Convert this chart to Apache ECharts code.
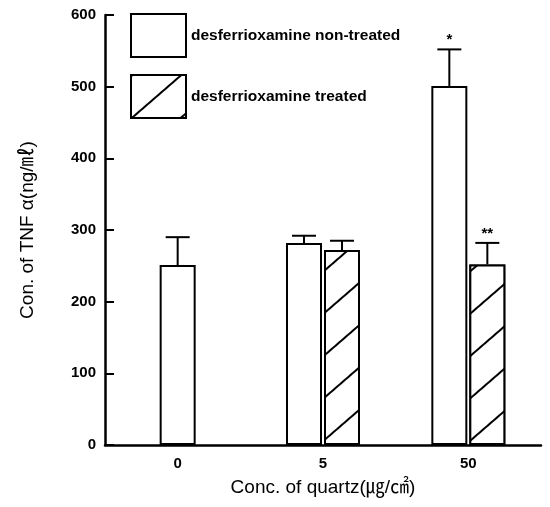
<!DOCTYPE html>
<html>
<head>
<meta charset="utf-8">
<script src="https://cdn.jsdelivr.net/npm/echarts@6/dist/echarts.min.js"></script>
<style>
  html, body { margin: 0; padding: 0; background: #fff; }
  #chart { width: 550px; height: 507px; }
</style>
</head>
<body>
<div id="chart"></div>
<script>
// quartz concentrations (x categories)
const categories = ["0", "5", "50"];
const yTicks = [0, 100, 200, 300, 400, 500, 600];

// TNF-alpha means and upper error values
const nonTreated = [251, 282, 501];
const nonTreatedUpper = [290, 292, 552];
const nonTreatedSig = ["", "", "*"];

const treated = [null, 272, 252];
const treatedUpper = [null, 285, 282];
const treatedSig = ["", "", "**"];

const NAME_NON = "desferrioxamine non-treated";
const NAME_TRT = "desferrioxamine treated";

const BAR_W = 36;
const BAR_GAP = 2;
const numFont = "'Liberation Sans Narrow', 'Liberation Sans', Arial, sans-serif";
const txtFont = "'Liberation Sans', Arial, 'Noto Sans CJK KR', sans-serif";

const hatch = {
  color: "#000",
  backgroundColor: "#fff",
  symbol: "rect",
  dashArrayX: [1, 0],
  dashArrayY: [1.4, 30],
  rotation: -Math.PI / 4.4
};

// bars present at both sides only where treated value exists
const pairedNon = nonTreated.map((v, i) => (treated[i] == null ? "-" : v));
const singleNon = nonTreated.map((v, i) => (treated[i] == null ? v : "-"));
const pairedTrt = treated.map(v => (v == null ? "-" : v));

// error bar rows: [category, mean, upper, group(0 non, 1 treated), sig]
const errRows = [];
nonTreated.forEach((v, i) => errRows.push([i, v, nonTreatedUpper[i], 0, nonTreatedSig[i]]));
treated.forEach((v, i) => { if (v != null) errRows.push([i, v, treatedUpper[i], 1, treatedSig[i]]); });

function renderError(params, api) {
  const i = api.value(0);
  const group = api.value(3);
  const sig = errRows[params.dataIndex][4];
  let off = 0;
  if (treated[i] != null) off = group === 0 ? -(BAR_W + BAR_GAP) / 2 : (BAR_W + BAR_GAP) / 2;
  const base = api.coord([i, api.value(1)]);
  const top = api.coord([i, api.value(2)]);
  const x = base[0] + off;
  const cap = 12;
  const style = { stroke: "#000", lineWidth: 2 };
  const children = [
    { type: "line", shape: { x1: x, y1: base[1], x2: x, y2: top[1] }, style },
    { type: "line", shape: { x1: x - cap, y1: top[1], x2: x + cap, y2: top[1] }, style }
  ];
  if (sig) {
    children.push({
      type: "text",
      style: {
        text: sig, x: x, y: top[1] - 2,
        fill: "#000", font: "bold 15px " + numFont,
        align: "center", verticalAlign: "bottom"
      }
    });
  }
  return { type: "group", children };
}

const chart = echarts.init(document.getElementById("chart"));
chart.setOption({
  backgroundColor: "#fff",
  animation: false,
  grid: { left: 105, right: 9, top: 15, bottom: 62 },
  legend: {
    data: [NAME_NON, NAME_TRT],
    orient: "vertical",
    left: 125,
    top: 8,
    itemWidth: 55,
    itemHeight: 43,
    itemGap: 16,
    icon: "rect",
    textStyle: { fontFamily: numFont, fontWeight: "bold", fontSize: 15.5, color: "#000" },
    selectedMode: false
  },
  xAxis: [
    {
      type: "category",
      data: categories,
      name: "Conc. of quartz(㎍/㎠)",
      nameLocation: "middle",
      nameGap: 33,
      nameTextStyle: { fontFamily: txtFont, fontSize: 19, color: "#000" },
      axisLine: { lineStyle: { color: "#000", width: 2.5 } },
      axisTick: { inside: true, length: 9, lineStyle: { color: "#000", width: 2 } },
      axisLabel: { fontFamily: numFont, fontWeight: "bold", fontSize: 15, color: "#000", margin: 11 }
    },
    { type: "category", data: categories, show: false }
  ],
  yAxis: {
    type: "value",
    min: yTicks[0],
    max: yTicks[yTicks.length - 1],
    interval: 100,
    name: "Con. of TNF α(ng/㎖)",
    nameLocation: "middle",
    nameGap: 68,
    nameTextStyle: { fontFamily: txtFont, fontSize: 19, color: "#000" },
    axisLine: { show: true, lineStyle: { color: "#000", width: 2.5 } },
    axisTick: { show: true, inside: true, length: 9, lineStyle: { color: "#000", width: 2 } },
    splitLine: { show: false },
    axisLabel: { fontFamily: numFont, fontWeight: "bold", fontSize: 15, color: "#000", margin: 9 }
  },
  series: [
    {
      name: NAME_NON,
      type: "bar",
      data: pairedNon,
      barWidth: BAR_W,
      barGap: (BAR_GAP / BAR_W * 100) + "%",
      itemStyle: { color: "#fff", borderColor: "#000", borderWidth: 2 }
    },
    {
      name: NAME_TRT,
      type: "bar",
      data: pairedTrt,
      barWidth: BAR_W,
      itemStyle: { color: "#fff", borderColor: "#000", borderWidth: 2, decal: hatch }
    },
    {
      name: NAME_NON,
      type: "bar",
      xAxisIndex: 1,
      data: singleNon,
      barWidth: BAR_W,
      itemStyle: { color: "#fff", borderColor: "#000", borderWidth: 2 }
    },
    {
      type: "custom",
      renderItem: renderError,
      data: errRows.map(r => [r[0], r[1], r[2], r[3]]),
      z: 5
    }
  ]
});
</script>
</body>
</html>
